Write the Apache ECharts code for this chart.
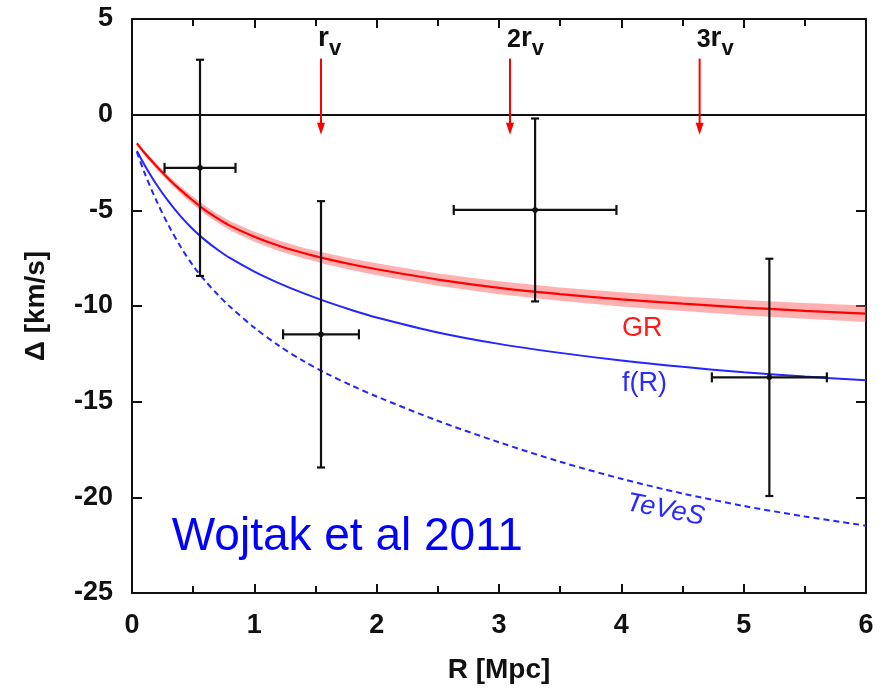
<!DOCTYPE html>
<html>
<head>
<meta charset="utf-8">
<script src="https://cdn.jsdelivr.net/npm/echarts@6/dist/echarts.min.js"></script>
<style>html,body{margin:0;padding:0;background:#fff}#c{width:887px;height:694px}</style>
</head>
<body>
<div id="c"></div>
<script>
// ---- data ----
const xTickLabels = ['0', '1', '2', '3', '4', '5', '6'];
const yTickLabels = ['-25', '-20', '-15', '-10', '-5', '0', '5'];
const curveX = [0.04, 0.1, 0.2, 0.3, 0.4, 0.5, 0.6, 0.7, 0.8, 1.0, 1.2, 1.4, 1.6, 1.8, 2.0, 2.5, 3.0, 3.5, 4.0, 4.5, 5.0, 5.5, 6.0];
const grY    = [-1.5, -1.98, -2.7, -3.36, -3.96, -4.5, -5.0, -5.42, -5.8, -6.38, -6.85, -7.23, -7.55, -7.83, -8.08, -8.62, -9.05, -9.38, -9.65, -9.88, -10.08, -10.25, -10.4];
const grErr  = [0.1, 0.12, 0.15, 0.17, 0.19, 0.21, 0.22, 0.23, 0.24, 0.26, 0.27, 0.28, 0.29, 0.3, 0.31, 0.32, 0.34, 0.35, 0.37, 0.38, 0.4, 0.41, 0.43];
const frY    = [-1.9, -2.6, -3.65, -4.55, -5.33, -6.0, -6.57, -7.06, -7.49, -8.2, -8.8, -9.33, -9.8, -10.22, -10.6, -11.38, -11.98, -12.45, -12.85, -13.18, -13.46, -13.69, -13.88];
const tvY    = [-1.95, -3.0, -4.5, -5.8, -6.93, -7.9, -8.7, -9.4, -10.03, -11.13, -12.07, -12.87, -13.56, -14.17, -14.73, -16.0, -17.12, -18.14, -19.03, -19.8, -20.45, -21.0, -21.48];
const ptX    = [0.556, 1.545, 3.295, 5.21];
const ptY    = [-2.78, -11.48, -4.98, -13.73];
const ptXErr = [0.29, 0.31, 0.665, 0.47];
const ptYErr = [5.65, 6.96, 4.78, 6.2];
const rvX      = [1.545, 3.09, 4.64];
const rvPrefix = ['', '2', '3'];
const arrowTop = 2.93, arrowTip = -1.05;
const zeroLine = [0];
const curveLabels = ['GR', 'f(R)', 'TeVeS'];
const curveLabelX = [4.17, 4.19, 4.36];
const curveLabelY = [-11.2, -14.07, -20.66];
const citeText = 'Wojtak et al 2011';
const citeX = 0.325, citeY = -22.08;

// ---- chart ----
const FONT = "'Liberation Sans', Arial, Helvetica, sans-serif";
const chart = echarts.init(document.getElementById('c'), null, {renderer: 'canvas'});
const axisLine = {show: true, onZero: false, lineStyle: {color: '#111', width: 2}};
const xCommon = {
  type: 'value', min: 0, max: 6, interval: 1,
  axisLine: axisLine,
  axisTick: {show: true, inside: true, length: 9, lineStyle: {color: '#111', width: 2}},
  minorTick: {show: true, splitNumber: 2, length: 7, lineStyle: {color: '#111', width: 2}},
  splitLine: {show: false}, minorSplitLine: {show: false}
};
const yCommon = {
  type: 'value', min: -25, max: 5, interval: 5,
  axisLine: axisLine,
  axisTick: {show: true, inside: true, length: 10, lineStyle: {color: '#111', width: 2}},
  splitLine: {show: false}
};
const lineCommon = {type: 'line', smooth: 0.3, showSymbol: false, z: 2};

chart.setOption({
  animation: false,
  backgroundColor: '#fff',
  textStyle: {fontFamily: FONT},
  grid: {left: 132, right: 21, top: 19, bottom: 101, containLabel: false},
  xAxis: [
    Object.assign({}, xCommon, {
      position: 'bottom',
      name: 'R [Mpc]', nameLocation: 'middle', nameGap: 63,
      nameTextStyle: {fontSize: 28, fontWeight: 'bold', color: '#111', fontFamily: FONT},
      axisLabel: {margin: 19, fontSize: 27, fontWeight: 'bold', color: '#111', fontFamily: FONT,
        formatter: v => xTickLabels[Math.round(v)] || ''}
    }),
    Object.assign({}, xCommon, {position: 'top', axisLabel: {show: false}})
  ],
  yAxis: [
    Object.assign({}, yCommon, {
      position: 'left',
      name: 'Δ [km/s]', nameLocation: 'middle', nameGap: 82, nameRotate: 90,
      nameTextStyle: {fontSize: 28, fontWeight: 'bold', color: '#111', fontFamily: FONT},
      axisLabel: {margin: 19, fontSize: 27, fontWeight: 'bold', color: '#111', fontFamily: FONT,
        formatter: v => yTickLabels[Math.round((v + 25) / 5)]}
    }),
    Object.assign({}, yCommon, {position: 'right', axisLabel: {show: false}})
  ],
  series: [
    {type: 'custom', name: 'grBand', z: 1, silent: true,
     data: [[curveX[0], grY[0]]],
     renderItem: function (params, api) {
       const upper = curveX.map((x, i) => api.coord([x, grY[i] + grErr[i]]));
       const lower = curveX.map((x, i) => api.coord([x, grY[i] - grErr[i]])).reverse();
       return {type: 'polygon', shape: {points: upper.concat(lower)},
         style: {fill: 'rgba(255,80,80,0.45)'}};
     }},
    Object.assign({}, lineCommon, {name: 'GR', data: curveX.map((x, i) => [x, grY[i]]),
     lineStyle: {color: '#ff0000', width: 2.2}}),
    Object.assign({}, lineCommon, {name: 'f(R)', data: curveX.map((x, i) => [x, frY[i]]),
     lineStyle: {color: '#2525ff', width: 2}}),
    Object.assign({}, lineCommon, {name: 'TeVeS', data: curveX.map((x, i) => [x, tvY[i]]),
     lineStyle: {color: '#2525ff', width: 2, type: [6, 4]},
     markLine: {silent: true, symbol: ['none', 'none'], label: {show: false},
       lineStyle: {color: '#111', width: 2, type: 'solid'},
       data: zeroLine.map(v => ({yAxis: v}))}}),
    {type: 'custom', name: 'data', z: 5,
     data: ptX.map((x, i) => [x, ptY[i], ptXErr[i], ptYErr[i]]),
     renderItem: function (params, api) {
       const x = api.value(0), y = api.value(1), ex = api.value(2), ey = api.value(3);
       const c = api.coord([x, y]);
       const l = api.coord([x - ex, y]), r = api.coord([x + ex, y]);
       const t = api.coord([x, y + ey]), b = api.coord([x, y - ey]);
       const st = {stroke: '#111', lineWidth: 2.2};
       const cw = 4, ch = 5;
       return {type: 'group', children: [
         {type: 'line', shape: {x1: l[0], y1: l[1], x2: r[0], y2: r[1]}, style: st},
         {type: 'line', shape: {x1: t[0], y1: t[1], x2: b[0], y2: b[1]}, style: st},
         {type: 'line', shape: {x1: l[0], y1: l[1] - ch, x2: l[0], y2: l[1] + ch}, style: st},
         {type: 'line', shape: {x1: r[0], y1: r[1] - ch, x2: r[0], y2: r[1] + ch}, style: st},
         {type: 'line', shape: {x1: t[0] - cw, y1: t[1], x2: t[0] + cw, y2: t[1]}, style: st},
         {type: 'line', shape: {x1: b[0] - cw, y1: b[1], x2: b[0] + cw, y2: b[1]}, style: st},
         {type: 'circle', shape: {cx: c[0], cy: c[1], r: 2.8}, style: {fill: '#111'}}
       ]};
     }},
    {type: 'custom', name: 'rv', z: 6,
     data: rvX.map((x, i) => [x, i]),
     renderItem: function (params, api) {
       const x = api.value(0), i = api.value(1);
       const top = api.coord([x, arrowTop]), tip = api.coord([x, arrowTip]);
       return {type: 'group', children: [
         {type: 'line', shape: {x1: top[0], y1: top[1], x2: tip[0], y2: tip[1] - 10}, style: {stroke: '#ff0000', lineWidth: 2}},
         {type: 'polygon', shape: {points: [[tip[0] - 4, tip[1] - 12], [tip[0] + 4, tip[1] - 12], [tip[0], tip[1]]]},
          style: {fill: '#ff0000'}},
         {type: 'text', x: top[0] - 3, y: top[1] + 1,
          style: {text: (rvPrefix[i] ? '{n|' + rvPrefix[i] + '}' : '') + '{r|r}{v|v}',
            align: 'left', verticalAlign: 'bottom', fill: '#111', fontFamily: FONT,
            rich: {
              n: {fontSize: 25, fontWeight: 'bold', fontFamily: FONT, fill: '#111', verticalAlign: 'bottom', padding: [0, 0, 7, 0]},
              r: {fontSize: 28, fontWeight: 'bold', fontFamily: FONT, fill: '#111', verticalAlign: 'bottom', padding: [0, 0, 7, 0]},
              v: {fontSize: 22, fontWeight: 'bold', fontFamily: FONT, fill: '#111', verticalAlign: 'bottom'}
            }}}
       ]};
     }},
    {type: 'custom', name: 'labels', z: 7,
     data: curveLabels.map((s, i) => [curveLabelX[i], curveLabelY[i], i]),
     renderItem: function (params, api) {
       const i = api.value(2);
       const p = api.coord([api.value(0), api.value(1)]);
       const colors = ['#ff1a1a', '#2a2aff', '#2a2aff'];
       return {type: 'text', x: p[0], y: p[1], rotation: i === 2 ? -0.19 : 0,
         style: {text: curveLabels[i], align: 'center', verticalAlign: 'middle',
           fill: colors[i], fontSize: 27, fontFamily: FONT,
           fontStyle: i === 2 ? 'italic' : 'normal'}};
     }},
    {type: 'custom', name: 'cite', z: 7,
     data: [[citeX, citeY]],
     renderItem: function (params, api) {
       const p = api.coord([api.value(0), api.value(1)]);
       return {type: 'text', x: p[0], y: p[1],
         style: {text: citeText, align: 'left', verticalAlign: 'middle',
           fill: '#0000ff', fontSize: 46, fontFamily: FONT}};
     }}
  ]
});
</script>
</body>
</html>
